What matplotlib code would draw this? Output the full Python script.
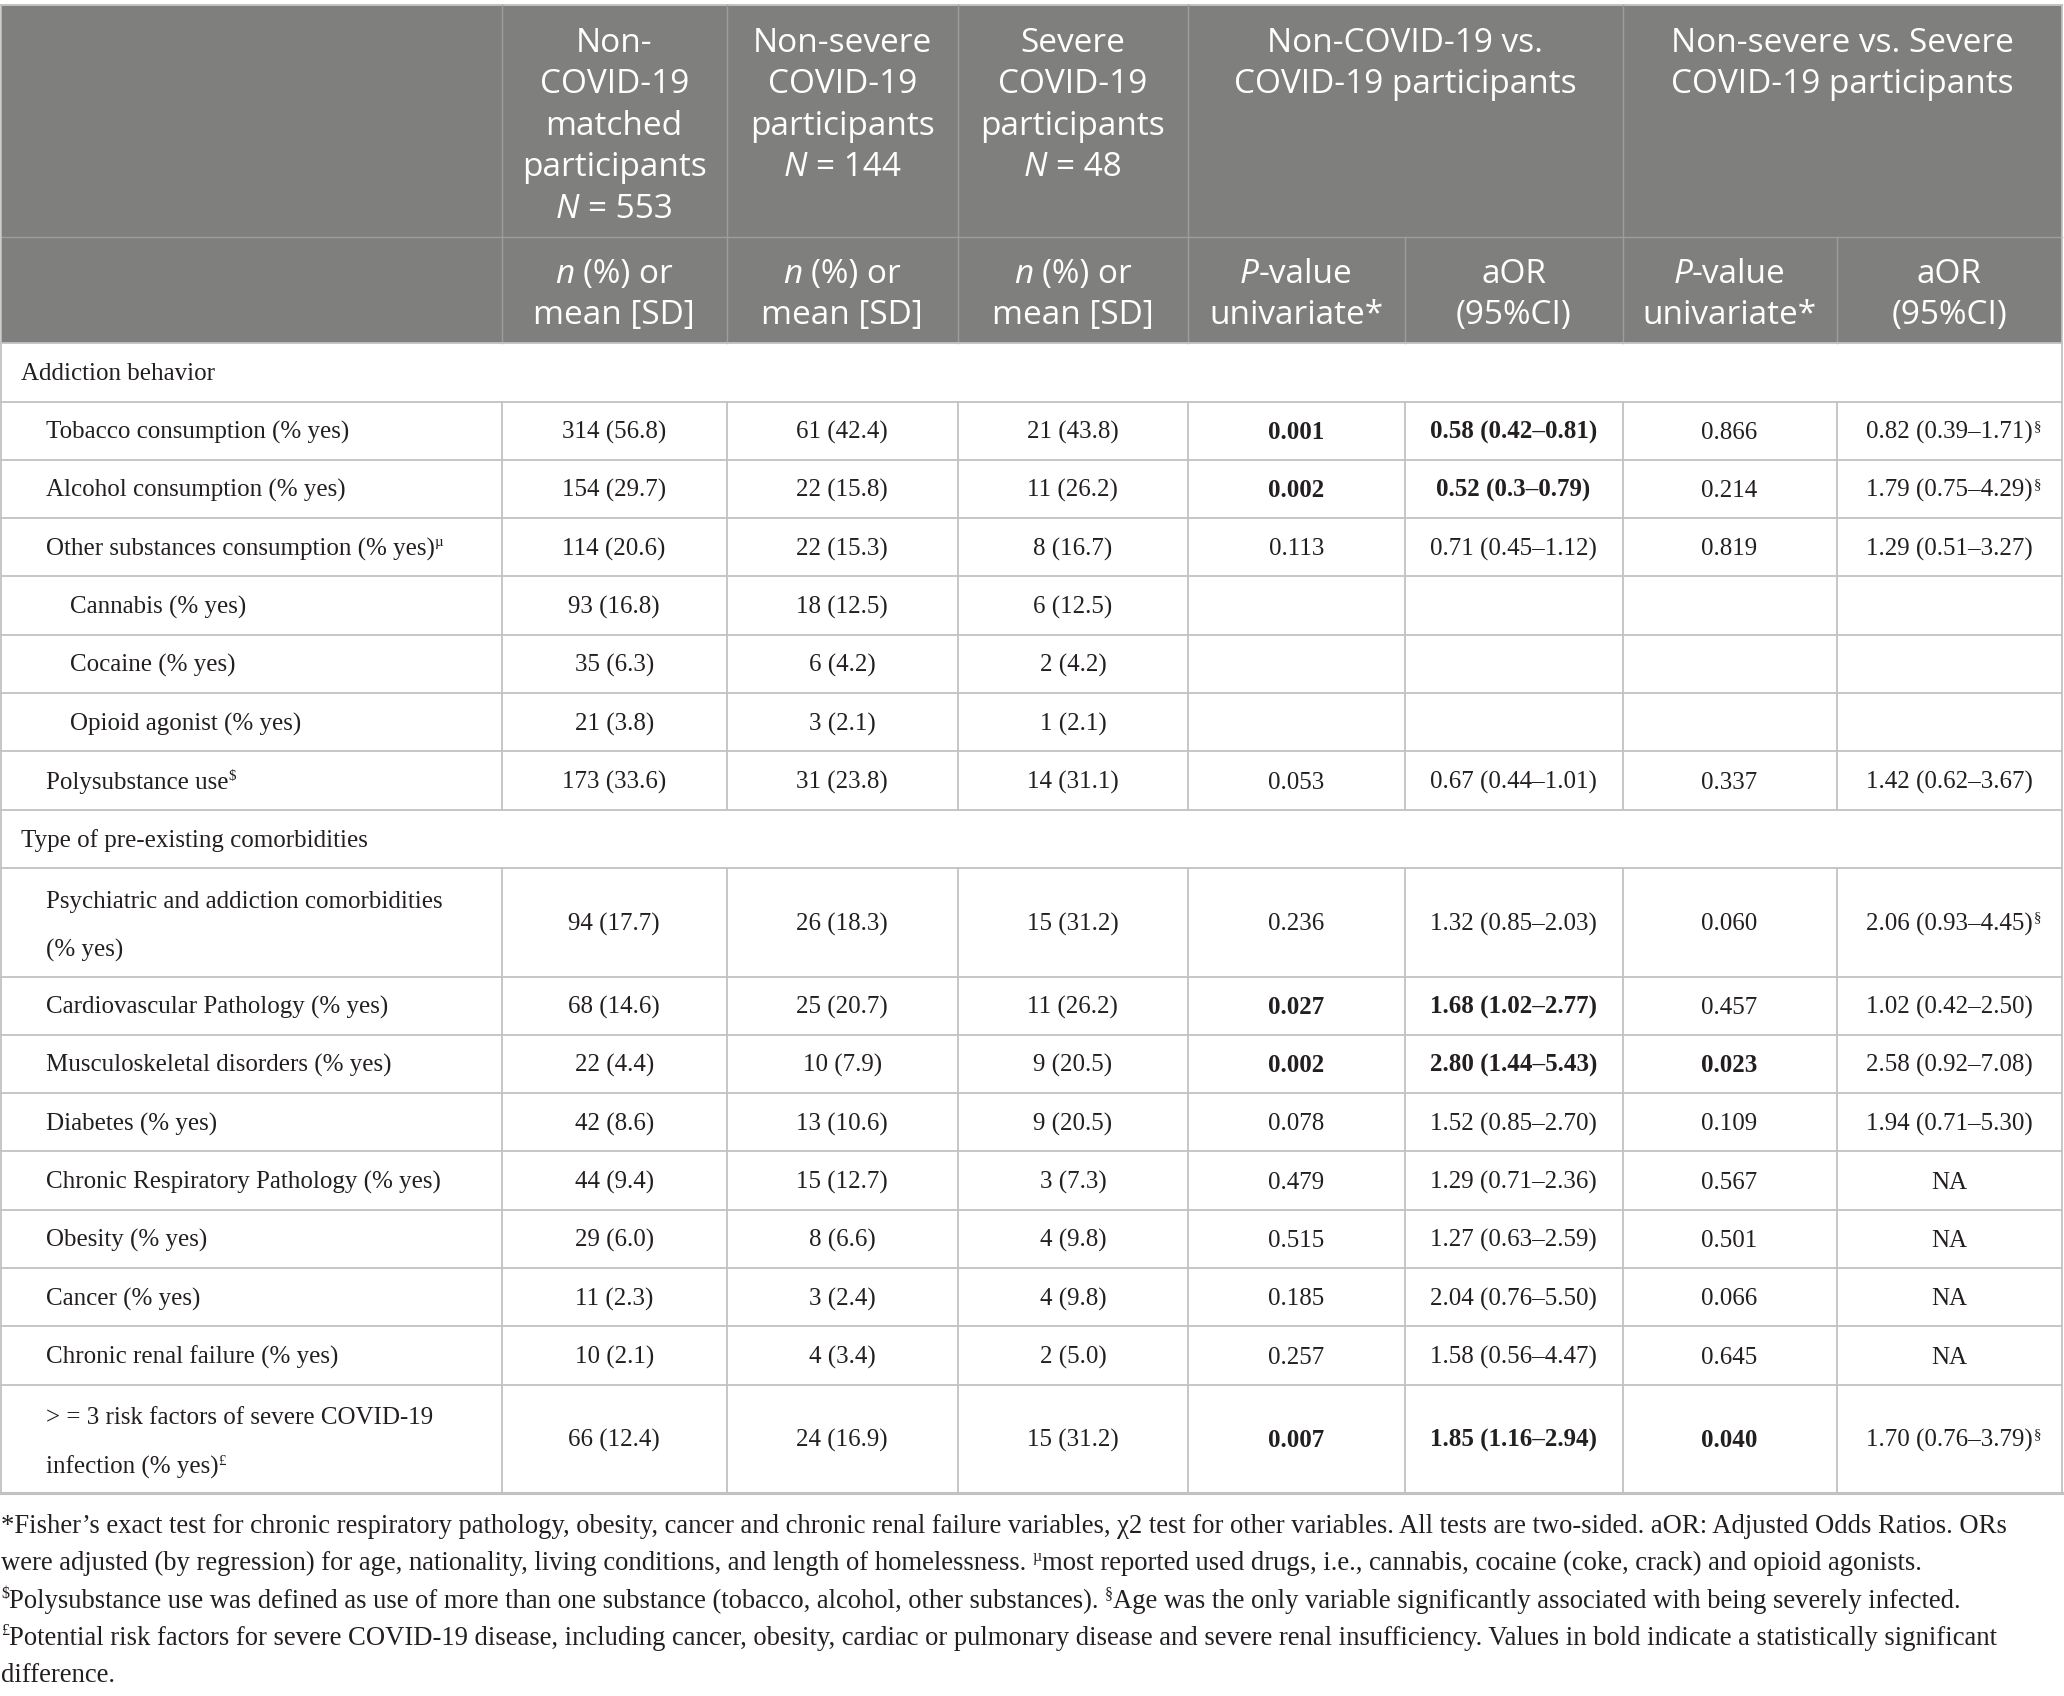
import matplotlib
matplotlib.use("Agg")
import matplotlib.pyplot as plt
from matplotlib.patches import Rectangle

# ---------------- data ----------------
col_groups = ["Non-COVID-19 vs.\nCOVID-19 participants",
              "Non-severe vs. Severe\nCOVID-19 participants"]

row_labels = [
    "Addiction behavior",
    "Tobacco consumption (% yes)",
    "Alcohol consumption (% yes)",
    "Other substances consumption (% yes)",
    "Cannabis (% yes)",
    "Cocaine (% yes)",
    "Opioid agonist (% yes)",
    "Polysubstance use",
    "Type of pre-existing comorbidities",
    "Psychiatric and addiction comorbidities\n(% yes)",
    "Cardiovascular Pathology (% yes)",
    "Musculoskeletal disorders (% yes)",
    "Diabetes (% yes)",
    "Chronic Respiratory Pathology (% yes)",
    "Obesity (% yes)",
    "Cancer (% yes)",
    "Chronic renal failure (% yes)",
    "> = 3 risk factors of severe COVID-19\ninfection (% yes)",
]
row_sup = ["", "", "", "\u00b5", "", "", "", "$", "", "", "", "", "", "", "", "", "", "\u00a3"]
row_level = [0, 1, 1, 1, 2, 2, 2, 1, 0, 1, 1, 1, 1, 1, 1, 1, 1, 1]
row_is_section = [True, False, False, False, False, False, False, False, True,
                  False, False, False, False, False, False, False, False, False]

non_covid = ["", "314 (56.8)", "154 (29.7)", "114 (20.6)", "93 (16.8)", "35 (6.3)", "21 (3.8)",
             "173 (33.6)", "", "94 (17.7)", "68 (14.6)", "22 (4.4)", "42 (8.6)", "44 (9.4)",
             "29 (6.0)", "11 (2.3)", "10 (2.1)", "66 (12.4)"]
non_severe = ["", "61 (42.4)", "22 (15.8)", "22 (15.3)", "18 (12.5)", "6 (4.2)", "3 (2.1)",
              "31 (23.8)", "", "26 (18.3)", "25 (20.7)", "10 (7.9)", "13 (10.6)", "15 (12.7)",
              "8 (6.6)", "3 (2.4)", "4 (3.4)", "24 (16.9)"]
severe = ["", "21 (43.8)", "11 (26.2)", "8 (16.7)", "6 (12.5)", "2 (4.2)", "1 (2.1)",
          "14 (31.1)", "", "15 (31.2)", "11 (26.2)", "9 (20.5)", "9 (20.5)", "3 (7.3)",
          "4 (9.8)", "4 (9.8)", "2 (5.0)", "15 (31.2)"]
p_nc_vs_c = ["", "0.001", "0.002", "0.113", "", "", "", "0.053", "", "0.236", "0.027", "0.002",
             "0.078", "0.479", "0.515", "0.185", "0.257", "0.007"]
aor_nc_vs_c = ["", "0.58 (0.42\u20130.81)", "0.52 (0.3\u20130.79)", "0.71 (0.45\u20131.12)", "", "", "",
               "0.67 (0.44\u20131.01)", "", "1.32 (0.85\u20132.03)", "1.68 (1.02\u20132.77)",
               "2.80 (1.44\u20135.43)", "1.52 (0.85\u20132.70)", "1.29 (0.71\u20132.36)",
               "1.27 (0.63\u20132.59)", "2.04 (0.76\u20135.50)", "1.58 (0.56\u20134.47)",
               "1.85 (1.16\u20132.94)"]
p_ns_vs_s = ["", "0.866", "0.214", "0.819", "", "", "", "0.337", "", "0.060", "0.457", "0.023",
             "0.109", "0.567", "0.501", "0.066", "0.645", "0.040"]
aor_ns_vs_s = ["", "0.82 (0.39\u20131.71)", "1.79 (0.75\u20134.29)", "1.29 (0.51\u20133.27)", "", "", "",
               "1.42 (0.62\u20133.67)", "", "2.06 (0.93\u20134.45)", "1.02 (0.42\u20132.50)",
               "2.58 (0.92\u20137.08)", "1.94 (0.71\u20135.30)", "NA", "NA", "NA", "NA",
               "1.70 (0.76\u20133.79)"]
aor_ns_vs_s_sup = ["", "\u00a7", "\u00a7", "", "", "", "", "", "", "\u00a7", "", "", "", "", "", "", "", "\u00a7"]

bold_rows_nc = [1, 2, 10, 11, 17]
bold_rows_ns = [11, 17]

footer_lines = [
    [("*Fisher\u2019s exact test for chronic respiratory pathology, obesity, cancer and chronic renal failure variables, \u03c72 test for other variables. All tests are two-sided. aOR: Adjusted Odds Ratios. ORs", "n")],
    [("were adjusted (by regression) for age, nationality, living conditions, and length of homelessness. ", "n"),
     ("\u00b5", "sup"), ("most reported used drugs, i.e., cannabis, cocaine (coke, crack) and opioid agonists.", "n")],
    [("$", "sup"), ("Polysubstance use was defined as use of more than one substance (tobacco, alcohol, other substances). ", "n"),
     ("\u00a7", "sup"), ("Age was the only variable significantly associated with being severely infected.", "n")],
    [("\u00a3", "sup"), ("Potential risk factors for severe COVID-19 disease, including cancer, obesity, cardiac or pulmonary disease and severe renal insufficiency. Values in bold indicate a statistically significant", "n")],
    [("difference.", "n")],
]

# ---------------- layout ----------------
W, H = 2064, 1696
col_edges = [1, 501.6, 726.7, 957.8, 1188, 1404.6, 1622.5, 1836.5, 2062]
top = 4.7
h_head1, h_head2 = 232, 106.6
h_single, h_double = 58.3, 108.6

HEAD_FONT = "Open Sans"
BODY_FONT = "Liberation Serif"
head_size = 24
body_size = 18
foot_size = 19.2
txt_color = "#231f20"
head_bg = "#7f807e"
head_line = "#9d9d9d"
grid = "#c2c2c2"

fig = plt.figure(figsize=(W / 100, H / 100), dpi=100)
ax = fig.add_axes([0, 0, 1, 1])
ax.set_xlim(0, W)
ax.set_ylim(H, 0)
ax.axis("off")
renderer = fig.canvas.get_renderer()

_space_cache = {}


def space_width(family, size, weight="normal", style="normal"):
    key = (family, size, weight, style)
    if key not in _space_cache:
        t1 = ax.text(0, 0, "x x", family=family, size=size, weight=weight, style=style, parse_math=False)
        t2 = ax.text(0, 0, "xx", family=family, size=size, weight=weight, style=style, parse_math=False)
        _space_cache[key] = t1.get_window_extent(renderer).width - t2.get_window_extent(renderer).width
        t1.remove()
        t2.remove()
    return _space_cache[key]


def rich(x, y, segs, ha="left", family=BODY_FONT, size=body_size, color=txt_color):
    items = []
    total = 0.0
    for txt, kind in segs:
        kw = dict(family=family, size=size, color=color)
        dy = 0
        if kind == "i":
            kw["style"] = "italic"
        if kind == "b":
            kw["weight"] = "bold"
        if kind == "sup":
            kw["size"] = size * 0.6
            dy = -size * 1.389 * 0.36
        sp = space_width(family, kw["size"], kw.get("weight", "normal"), kw.get("style", "normal"))
        core = txt.strip(" ")
        lead = len(txt) - len(txt.lstrip(" "))
        trail = len(txt) - len(txt.rstrip(" "))
        total += lead * sp
        if core:
            t = ax.text(0, y + dy, core, ha="left", va="baseline", parse_math=False, **kw)
            w = t.get_window_extent(renderer).width
            items.append((t, total))
            total += w
        total += trail * sp
    if ha == "left":
        x0 = x
    elif ha == "center":
        x0 = x - total / 2
    else:
        x0 = x - total
    for t, off in items:
        t.set_x(x0 + off)
    return total


# header background
head_bottom = top + h_head1 + h_head2
ax.add_patch(Rectangle((col_edges[0], top), col_edges[-1] - col_edges[0], head_bottom - top,
                       facecolor=head_bg, edgecolor="none", zorder=0))

# header row 1
head_lh = 41.6
head_base = top + 47
head1 = [
    [[("Non-", "n")], [("COVID-19", "n")], [("matched", "n")], [("participants", "n")],
     [("N", "i"), (" = 553", "n")]],
    [[("Non-severe", "n")], [("COVID-19", "n")], [("participants", "n")], [("N", "i"), (" = 144", "n")]],
    [[("Severe", "n")], [("COVID-19", "n")], [("participants", "n")], [("N", "i"), (" = 48", "n")]],
]
for ci, lines in enumerate(head1):
    xc = (col_edges[ci + 1] + col_edges[ci + 2]) / 2
    for li, segs in enumerate(lines):
        rich(xc, head_base + li * head_lh, segs, ha="center", family=HEAD_FONT, size=head_size, color="white")
for gi, g in enumerate(col_groups):
    xc = (col_edges[4 + 2 * gi] + col_edges[6 + 2 * gi]) / 2
    for li, line in enumerate(g.split("\n")):
        rich(xc, head_base + li * head_lh, [(line, "n")], ha="center", family=HEAD_FONT, size=head_size,
             color="white")

# header row 2
sub_head = [
    [[("n", "i"), (" (%) or", "n")], [("mean [SD]", "n")]],
    [[("n", "i"), (" (%) or", "n")], [("mean [SD]", "n")]],
    [[("n", "i"), (" (%) or", "n")], [("mean [SD]", "n")]],
    [[("P", "i"), ("-value", "n")], [("univariate*", "n")]],
    [[("aOR", "n")], [("(95%CI)", "n")]],
    [[("P", "i"), ("-value", "n")], [("univariate*", "n")]],
    [[("aOR", "n")], [("(95%CI)", "n")]],
]
h2_top = top + h_head1
for ci, lines in enumerate(sub_head):
    xc = (col_edges[ci + 1] + col_edges[ci + 2]) / 2
    for li, segs in enumerate(lines):
        rich(xc, h2_top + 46 + li * head_lh, segs, ha="center", family=HEAD_FONT, size=head_size, color="white")

# header lines
ax.plot([col_edges[0], col_edges[-1]], [top, top], color=grid, lw=1.4, zorder=3)
ax.plot([col_edges[0], col_edges[-1]], [h2_top, h2_top], color=head_line, lw=1.0, zorder=3)
for xe in [col_edges[1], col_edges[2], col_edges[3], col_edges[4], col_edges[6]]:
    ax.plot([xe, xe], [top, head_bottom], color=head_line, lw=1.0, zorder=3)
for xe in [col_edges[5], col_edges[7]]:
    ax.plot([xe, xe], [h2_top, head_bottom], color=head_line, lw=1.0, zorder=3)
ax.plot([col_edges[0], col_edges[0]], [top, head_bottom], color=grid, lw=1.2, zorder=3)
ax.plot([col_edges[-1], col_edges[-1]], [top, head_bottom], color=grid, lw=1.2, zorder=3)

# body rows
indent = {0: 21, 1: 46, 2: 70}
y = head_bottom
data_cols = [non_covid, non_severe, severe, p_nc_vs_c, aor_nc_vs_c, p_ns_vs_s, aor_ns_vs_s]
for ri, label in enumerate(row_labels):
    lines = label.split("\n")
    rh = h_double if len(lines) > 1 else h_single
    yc = y + rh / 2
    base = yc + 8
    if len(lines) == 1:
        segs = [(lines[0], "n")] + ([(row_sup[ri], "sup")] if row_sup[ri] else [])
        rich(indent[row_level[ri]], base, segs)
    else:
        lh = 49.4
        for li, ln in enumerate(lines):
            segs = [(ln, "n")]
            if li == len(lines) - 1 and row_sup[ri]:
                segs.append((row_sup[ri], "sup"))
            rich(indent[row_level[ri]], base - lh / 2 + li * lh + 2, segs)
    if not row_is_section[ri]:
        for ci, col in enumerate(data_cols):
            val = col[ri]
            if not val:
                continue
            xc = (col_edges[ci + 1] + col_edges[ci + 2]) / 2
            kind = "n"
            if ci in (3, 4) and ri in bold_rows_nc:
                kind = "b"
            if ci == 5 and ri in bold_rows_ns:
                kind = "b"
            w = rich(xc, base, [(val, kind)], ha="center")
            if ci == 6 and aor_ns_vs_s_sup[ri]:
                rich(xc + w / 2 + 1, base, [(aor_ns_vs_s_sup[ri], "sup")])
        for xe in col_edges[1:-1]:
            ax.plot([xe, xe], [y, y + rh], color=grid, lw=1.3, zorder=3)
    ax.plot([col_edges[0], col_edges[0]], [y, y + rh], color=grid, lw=1.3, zorder=3)
    ax.plot([col_edges[-1], col_edges[-1]], [y, y + rh], color=grid, lw=1.3, zorder=3)
    ax.plot([col_edges[0], col_edges[-1]], [y, y], color=grid, lw=1.3, zorder=3)
    y += rh
ax.plot([col_edges[0], col_edges[-1]], [y, y], color=grid, lw=2.2, zorder=3)

# footer
fy = y + 40
for li, segs in enumerate(footer_lines):
    rich(1, fy + li * 37.2, segs, size=foot_size)

fig.savefig("out.png", dpi=100, facecolor="white")
